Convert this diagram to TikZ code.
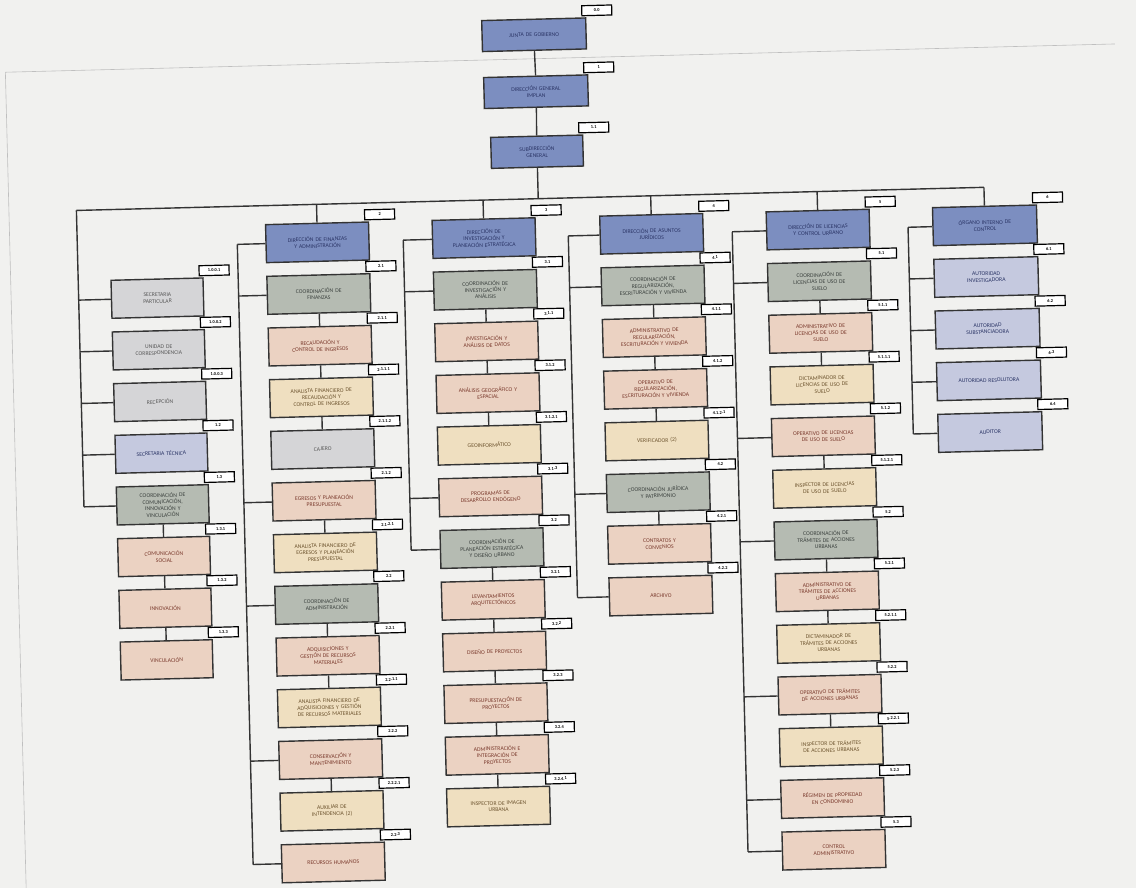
\documentclass[tikz,border=0pt]{standalone}
\usepackage{fontspec}
\setmainfont{Carlito}
\definecolor{bgc}{HTML}{F1F1EF}
\definecolor{dirblue}{HTML}{7C8EC0}
\definecolor{dirtext}{HTML}{2B3566}
\definecolor{coordc}{HTML}{B5BBB2}
\definecolor{coordtext}{HTML}{3D4340}
\definecolor{lgray}{HTML}{D5D5D7}
\definecolor{lavc}{HTML}{C5C9DF}
\definecolor{peach}{HTML}{EBD2C2}
\definecolor{peachtext}{HTML}{7B3B2E}
\definecolor{yelc}{HTML}{EFDFC0}
\definecolor{yeltext}{HTML}{6E5530}
\tikzset{
 base/.style={draw=black!80, line width=1.4pt, minimum height=38pt, inner xsep=4pt, inner ysep=1pt, align=center, text width=95pt, font=\fontsize{5.7}{6.6}\selectfont},
 narrow/.style={text width=84pt},
 wide/.style={text width=96pt},
 topb/.style={minimum height=31pt},
 blu/.style={base, fill=dirblue, text=dirtext},
 coo/.style={base, fill=coordc, text=coordtext},
 gry/.style={base, fill=lgray, text=black!65},
 lav/.style={base, fill=lavc, text=dirtext},
 pch/.style={base, fill=peach, text=peachtext},
 yel/.style={base, fill=yelc, text=yeltext},
 codebox/.style={draw=black, line width=1.2pt, fill=white, minimum width=30pt, minimum height=10pt, inner sep=0pt, font=\fontsize{4.4}{4.4}\selectfont\bfseries, anchor=south west},
 link/.style={draw=black!80, line width=1.4pt},
 frame/.style={draw=black!25, line width=0.6pt}
}
\newcommand{\orgbox}[6]{\node[#2] (#1) at (#3,#4) {#5};
 \node[codebox] (#1c) at ([xshift=-5pt,yshift=1pt]#1.north east) {#6};}
\begin{document}
\begin{tikzpicture}[x=1pt,y=-1pt]
\fill[bgc] (0,0) rectangle (1136,888);
\useasboundingbox (0,0) rectangle (1136,888);
\begin{scope}[rotate around={1.46:(568,444)}, transform shape]
\draw[frame] (15,58) -- (1125,58);
\draw[frame] (15,58) -- (15,900);
% top
\orgbox{t1}{blu,topb,wide}{544.5}{34}{JUNTA DE GOBIERNO}{0.0}
\orgbox{t2}{blu,topb,wide}{545}{91}{DIRECCIÓN GENERAL\\IMPLAN}{1}
\orgbox{t3}{blu,topb,narrow}{544.5}{151}{SUBDIRECCIÓN\\GENERAL}{1.1}
% column 1
\orgbox{a1}{gry,narrow}{161.3}{287.7}{SECRETARIA\\PARTICULAR}{1.0.0.1}
\orgbox{a2}{gry,narrow}{161.3}{339.4}{UNIDAD DE\\CORRESPONDENCIA}{1.0.0.2}
\orgbox{a3}{gry,narrow}{161.3}{391.1}{RECEPCIÓN}{1.0.0.3}
\orgbox{a4}{lav,narrow}{161.3}{442.8}{SECRETARIA TÉCNICA}{1.2}
\orgbox{a5}{coo,narrow}{161.3}{494.5}{COORDINACIÓN DE\\COMUNICACIÓN,\\INNOVACIÓN Y\\VINCULACIÓN}{1.3}
\orgbox{a6}{pch,narrow}{161.3}{546.2}{COMUNICACIÓN\\SOCIAL}{1.3.1}
\orgbox{a7}{pch,narrow}{161.3}{597.9}{INNOVACIÓN}{1.3.2}
\orgbox{a8}{pch,narrow}{161.3}{649.6}{VINCULACIÓN}{1.3.3}
% column 2
\orgbox{b0}{blu}{322.7}{236}{DIRECCIÓN DE FINANZAS\\Y ADMINISTRACIÓN}{2}
\orgbox{b1}{coo}{322.7}{287.7}{COORDINACIÓN DE\\FINANZAS}{2.1}
\orgbox{b2}{pch}{322.7}{339.4}{RECAUDACIÓN Y\\CONTROL DE INGRESOS}{2.1.1}
\orgbox{b3}{yel}{322.7}{391.1}{ANALISTA FINANCIERO DE\\RECAUDACIÓN Y\\CONTROL DE INGRESOS}{2.1.1.1}
\orgbox{b4}{gry}{322.7}{442.8}{CAJERO}{2.1.1.2}
\orgbox{b5}{pch}{322.7}{494.5}{EGRESOS Y PLANEACIÓN\\PRESUPUESTAL}{2.1.2}
\orgbox{b6}{yel}{322.7}{546.2}{ANALISTA FINANCIERO DE\\EGRESOS Y PLANEACIÓN\\PRESUPUESTAL}{2.1.2.1}
\orgbox{b7}{coo}{322.7}{597.9}{COORDINACIÓN DE\\ADMINISTRACIÓN}{2.2}
\orgbox{b8}{pch}{322.7}{649.6}{ADQUISICIONES Y\\GESTIÓN DE RECURSOS\\MATERIALES}{2.2.1}
\orgbox{b9}{yel}{322.7}{701.3}{ANALISTA FINANCIERO DE\\ADQUISICIONES Y GESTIÓN\\DE RECURSOS MATERIALES}{2.2.1.1}
\orgbox{b10}{pch}{322.7}{753}{CONSERVACIÓN Y\\MANTENIMIENTO}{2.2.2}
\orgbox{b11}{yel}{322.7}{804.7}{AUXILIAR DE\\INTENDENCIA (2)}{2.2.2.1}
\orgbox{b12}{pch}{322.7}{856.4}{RECURSOS HUMANOS}{2.2.3}
% column 3
\orgbox{c0}{blu}{489.3}{236}{DIRECCIÓN DE\\INVESTIGACIÓN Y\\PLANEACIÓN ESTRATÉGICA}{3}
\orgbox{c1}{coo}{489.3}{287.7}{COORDINACIÓN DE\\INVESTIGACIÓN Y\\ANÁLISIS}{3.1}
\orgbox{c2}{pch}{489.3}{339.4}{INVESTIGACIÓN Y\\ANÁLISIS DE DATOS}{3.1.1}
\orgbox{c3}{pch}{489.3}{391.1}{ANÁLISIS GEOGRÁFICO Y\\ESPACIAL}{3.1.2}
\orgbox{c4}{yel}{489.3}{442.8}{GEOINFORMÁTICO}{3.1.2.1}
\orgbox{c5}{pch}{489.3}{494.5}{PROGRAMAS DE\\DESARROLLO ENDÓGENO}{3.1.3}
\orgbox{c6}{coo}{489.3}{546.2}{COORDINACIÓN DE\\PLANEACIÓN ESTRATÉGICA\\Y DISEÑO URBANO}{3.2}
\orgbox{c7}{pch}{489.3}{597.9}{LEVANTAMIENTOS\\ARQUITECTÓNICOS}{3.2.1}
\orgbox{c8}{pch}{489.3}{649.6}{DISEÑO DE PROYECTOS}{3.2.2}
\orgbox{c9}{pch}{489.3}{701.3}{PRESUPUESTACIÓN DE\\PROYECTOS}{3.2.3}
\orgbox{c10}{pch}{489.3}{753}{ADMINISTRACIÓN E\\INTEGRACIÓN DE\\PROYECTOS}{3.2.4}
\orgbox{c11}{yel}{489.3}{804.7}{INSPECTOR DE IMAGEN\\URBANA}{3.2.4.1}
% column 4
\orgbox{d0}{blu}{657}{236}{DIRECCIÓN DE ASUNTOS\\JURÍDICOS}{4}
\orgbox{d1}{coo}{657}{287.7}{COORDINACIÓN DE\\REGULARIZACIÓN,\\ESCRITURACIÓN Y VIVIENDA}{4.1}
\orgbox{d2}{pch}{657}{339.4}{ADMINISTRATIVO DE\\REGULARIZACIÓN,\\ESCRITURACIÓN Y VIVIENDA}{4.1.1}
\orgbox{d3}{pch}{657}{391.1}{OPERATIVO DE\\REGULARIZACIÓN,\\ESCRITURACIÓN Y VIVIENDA}{4.1.2}
\orgbox{d4}{yel}{657}{442.8}{VERIFICADOR (2)}{4.1.2.1}
\orgbox{d5}{coo}{657}{494.5}{COORDINACIÓN JURÍDICA\\Y PATRIMONIO}{4.2}
\orgbox{d6}{pch}{657}{546.2}{CONTRATOS Y\\CONVENIOS}{4.2.1}
\orgbox{d7}{pch}{657}{597.9}{ARCHIVO}{4.2.2}
% column 5
\orgbox{e0}{blu}{823.5}{236}{DIRECCIÓN DE LICENCIAS\\Y CONTROL URBANO}{5}
\orgbox{e1}{coo}{823.5}{287.7}{COORDINACIÓN DE\\LICENCIAS DE USO DE\\SUELO}{5.1}
\orgbox{e2}{pch}{823.5}{339.4}{ADMINISTRATIVO DE\\LICENCIAS DE USO DE\\SUELO}{5.1.1}
\orgbox{e3}{yel}{823.5}{391.1}{DICTAMINADOR DE\\LICENCIAS DE USO DE\\SUELO}{5.1.1.1}
\orgbox{e4}{pch}{823.5}{442.8}{OPERATIVO DE LICENCIAS\\DE USO DE SUELO}{5.1.2}
\orgbox{e5}{yel}{823.5}{494.5}{INSPECTOR DE LICENCIAS\\DE USO DE SUELO}{5.1.2.1}
\orgbox{e6}{coo}{823.5}{546.2}{COORDINACIÓN DE\\TRÁMITES DE ACCIONES\\URBANAS}{5.2}
\orgbox{e7}{pch}{823.5}{597.9}{ADMINISTRATIVO DE\\TRÁMITES DE ACCIONES\\URBANAS}{5.2.1}
\orgbox{e8}{yel}{823.5}{649.6}{DICTAMINADOR DE\\TRÁMITES DE ACCIONES\\URBANAS}{5.2.1.1}
\orgbox{e9}{pch}{823.5}{701.3}{OPERATIVO DE TRÁMITES\\DE ACCIONES URBANAS}{5.2.2}
\orgbox{e10}{yel}{823.5}{753}{INSPECTOR DE TRÁMITES\\DE ACCIONES URBANAS}{5.2.2.1}
\orgbox{e11}{pch}{823.5}{804.7}{RÉGIMEN DE PROPIEDAD\\EN CONDOMINIO}{5.2.3}
\orgbox{e12}{pch}{823.5}{856.4}{CONTROL\\ADMINISTRATIVO}{5.3}
% column 6
\orgbox{g0}{blu,wide}{990.4}{236}{ÓRGANO INTERNO DE\\CONTROL}{6}
\orgbox{g1}{lav,wide}{990.4}{287.7}{AUTORIDAD\\INVESTIGADORA}{6.1}
\orgbox{g2}{lav,wide}{990.4}{339.4}{AUTORIDAD\\SUBSTANCIADORA}{6.2}
\orgbox{g3}{lav,wide}{990.4}{391.1}{AUTORIDAD RESOLUTORA}{6.3}
\orgbox{g4}{lav,wide}{990.4}{442.8}{AUDITOR}{6.4}
% junction coordinates
\coordinate (kt) at (544.5,198);
\coordinate (ka) at (82.5,198);
\coordinate (kb) at (322.7,198);
\coordinate (kc) at (489.3,198);
\coordinate (kd) at (657,198);
\coordinate (ke) at (823.5,198);
\coordinate (kg) at (990.4,198);
\foreach \r/\y in {1/287.7,2/339.4,3/391.1,4/442.8,5/494.5}{\coordinate (ja\r) at (82.5,\y);}
\foreach \r/\y in {0/236,1/287.7,5/494.5,7/597.9,10/753,12/856.4}{\coordinate (jb\r) at (242.5,\y);}
\foreach \r/\y in {0/236,1/287.7,5/494.5,6/546.2}{\coordinate (jc\r) at (408.5,\y);}
\foreach \r/\y in {0/236,1/287.7,5/494.5,7/597.9}{\coordinate (jd\r) at (573.6,\y);}
\foreach \r/\y in {0/236,1/287.7,4/442.8,6/546.2,9/701.3,11/804.7,12/856.4}{\coordinate (je\r) at (737.6,\y);}
\foreach \r/\y in {0/236,1/287.7,2/339.4,3/391.1,4/442.8}{\coordinate (jg\r) at (913.5,\y);}
% connectors: top
\draw[link] (t1.south) -- (t2.north);
\draw[link] (t2.south) -- (t3.north);
\draw[link] (t3.south) -- (kt);
\draw[link] (ka) -- (kg);
\foreach \n in {b,c,d,e,g}{\draw[link] (k\n) -- (\n0.north);}
% column 1
\draw[link] (ka) -- (ja5);
\foreach \r in {1,...,5}{\draw[link] (ja\r) -- (a\r.west);}
\draw[link] (a5.south) -- (a6.north);
\draw[link] (a6.south) -- (a7.north);
\draw[link] (a7.south) -- (a8.north);
% column 2
\draw[link] (jb0) -- (jb12);
\foreach \r in {0,1,5,7,10,12}{\draw[link] (jb\r) -- (b\r.west);}
\foreach \p/\q in {1/2,2/3,3/4,5/6,7/8,8/9,10/11}{\draw[link] (b\p.south) -- (b\q.north);}
% column 3
\draw[link] (jc0) -- (jc6);
\foreach \r in {0,1,5,6}{\draw[link] (jc\r) -- (c\r.west);}
\foreach \p/\q in {1/2,2/3,3/4,6/7,7/8,8/9,9/10,10/11}{\draw[link] (c\p.south) -- (c\q.north);}
% column 4
\draw[link] (jd0) -- (jd7);
\foreach \r in {0,1,5,7}{\draw[link] (jd\r) -- (d\r.west);}
\foreach \p/\q in {1/2,2/3,3/4,5/6}{\draw[link] (d\p.south) -- (d\q.north);}
% column 5
\draw[link] (je0) -- (je12);
\foreach \r in {0,1,4,6,9,11,12}{\draw[link] (je\r) -- (e\r.west);}
\foreach \p/\q in {1/2,2/3,4/5,6/7,7/8,9/10}{\draw[link] (e\p.south) -- (e\q.north);}
% column 6
\draw[link] (jg0) -- (jg4);
\foreach \r in {0,...,4}{\draw[link] (jg\r) -- (g\r.west);}
\end{scope}
\end{tikzpicture}
\end{document}
